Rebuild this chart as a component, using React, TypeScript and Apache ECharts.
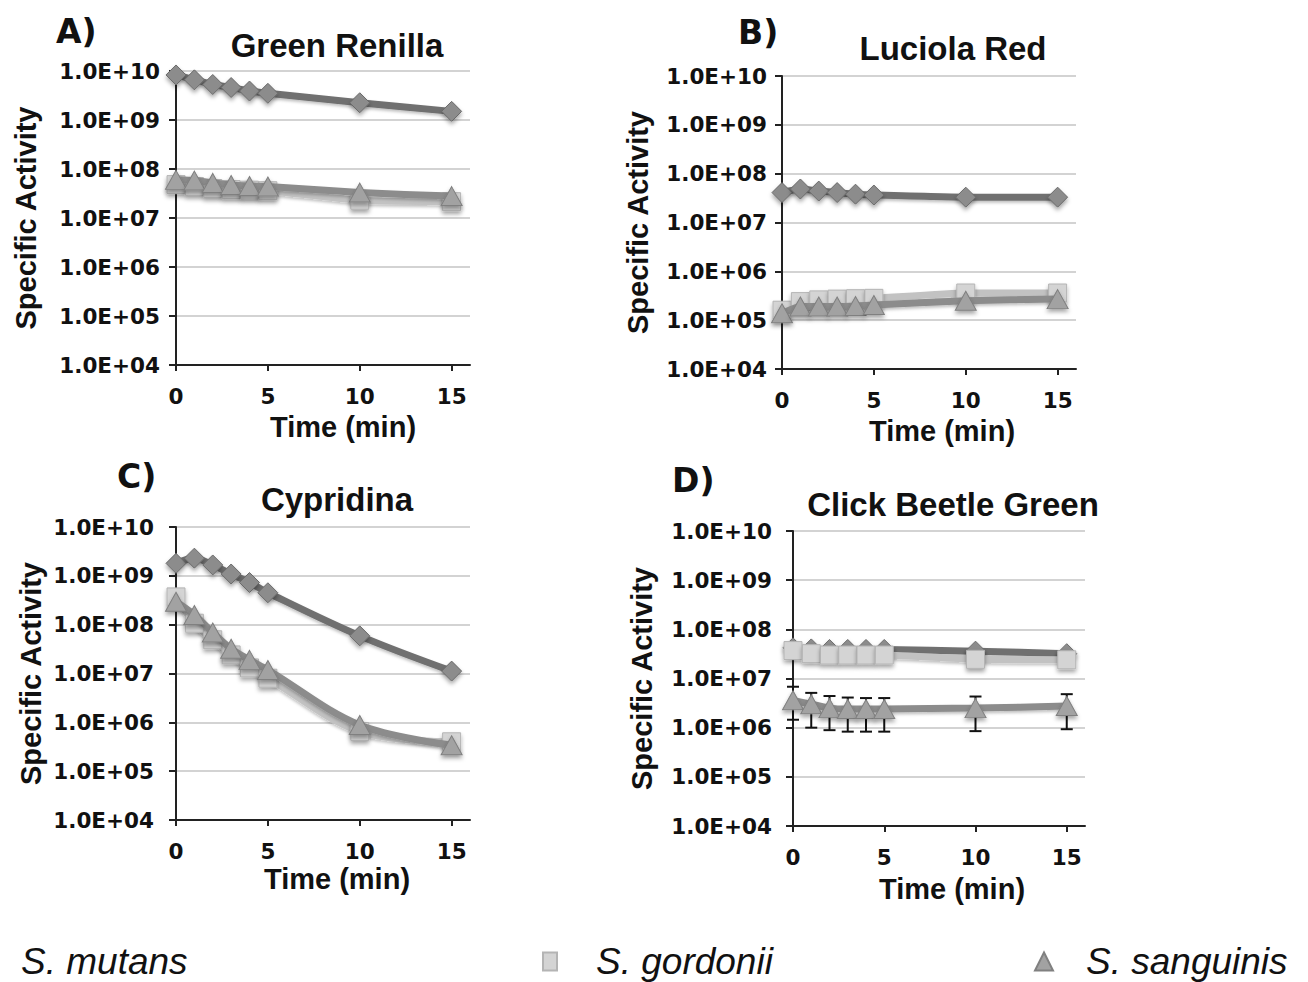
import React, { useEffect, useRef } from "react";
import * as echarts from "echarts";

// ---------- data ----------
const times = [0, 1, 2, 3, 4, 5, 10, 15];
const xTickLabels = [0, 5, 10, 15];
const seriesNames = ["S. mutans", "S. gordonii", "S. sanguinis"];
const panelLetters = ["A)", "B)", "C)", "D)"];
const panelTitles = ["Green Renilla", "Luciola Red", "Cypridina", "Click Beetle Green"];

const renillaMutans = [8.3e9, 6.6e9, 5.3e9, 4.6e9, 3.9e9, 3.5e9, 2.25e9, 1.5e9];
const renillaGordonii = [4.8e7, 4.4e7, 4.0e7, 3.8e7, 3.7e7, 3.6e7, 2.3e7, 2.15e7];
const renillaSanguinis = [6.0e7, 5.8e7, 5.2e7, 4.7e7, 4.5e7, 4.4e7, 3.3e7, 2.8e7];

const luciolaMutans = [4.1e7, 4.85e7, 4.4e7, 4.1e7, 3.8e7, 3.65e7, 3.3e7, 3.3e7];
const luciolaGordonii = [1.6e5, 2.4e5, 2.6e5, 2.7e5, 2.75e5, 2.8e5, 3.6e5, 3.6e5];
const luciolaSanguinis = [1.38e5, 1.9e5, 1.9e5, 1.9e5, 1.95e5, 2.05e5, 2.5e5, 2.7e5];

const cypridinaMutans = [1.8e9, 2.3e9, 1.67e9, 1.09e9, 7.3e8, 4.5e8, 5.9e7, 1.12e7];
const cypridinaGordonii = [3.7e8, 1.07e8, 4.9e7, 2.4e7, 1.3e7, 8.0e6, 6.5e5, 4.0e5];
const cypridinaSanguinis = [2.95e8, 1.58e8, 6.9e7, 3.2e7, 1.9e7, 1.18e7, 8.8e5, 3.4e5];

const beetleMutans = [4.2e7, 4.0e7, 3.9e7, 3.9e7, 3.9e7, 3.9e7, 3.6e7, 3.2e7];
const beetleGordonii = [3.7e7, 3.2e7, 3.0e7, 3.0e7, 3.0e7, 3.0e7, 2.45e7, 2.4e7];
const beetleSanguinis = [3.6e6, 3.0e6, 2.5e6, 2.4e6, 2.4e6, 2.4e6, 2.5e6, 2.75e6];
const beetleSanguinisHigh = [6.8e6, 5.1e6, 4.4e6, 4.1e6, 4.0e6, 4.0e6, 4.3e6, 4.8e6];
const beetleSanguinisLow = [1.45e6, 1.0e6, 8.9e5, 8.3e5, 8.3e5, 8.3e5, 8.5e5, 9.3e5];

const panelData = [
  [renillaMutans, renillaGordonii, renillaSanguinis],
  [luciolaMutans, luciolaGordonii, luciolaSanguinis],
  [cypridinaMutans, cypridinaGordonii, cypridinaSanguinis],
  [beetleMutans, beetleGordonii, beetleSanguinis],
];

// ---------- layout ----------
const grids = [
  { left: 176, top: 71, width: 294, height: 294 },
  { left: 782, top: 76, width: 294, height: 293 },
  { left: 176, top: 527, width: 294, height: 293 },
  { left: 793, top: 531, width: 292, height: 295 },
];
const yLabelMargin = [16, 15, 22, 21];
const yNameGap = [136, 130, 131, 137];
const xNameShift = [20, 13, 14, 13];
const xNameGap = [47, 47, 44, 48];
const letterPos = [[56, 31], [738, 32], [117, 476], [672, 480]];
const titlePos = [[337, 45], [953, 48], [337, 499], [953, 504]];

const styles = [
  { line: "#707070", fill: "#8c8c8c", border: "#6a6a6a", symbol: "diamond", size: [20, 20] },
  { line: "#c2c2c2", fill: "#d4d4d4", border: "#b4b4b4", symbol: "rect", size: [18, 18] },
  { line: "#8c8c8c", fill: "#a2a2a2", border: "#808080", symbol: "triangle", size: [21, 19] },
];

const tickFont = { fontFamily: "DejaVu Sans", fontWeight: "bold" as const, fontSize: 21.5, color: "#111" };
const nameFont = { fontFamily: "Liberation Sans", fontWeight: "bold" as const, fontSize: 29, color: "#111" };

export default function App() {
  const ref = useRef<HTMLDivElement>(null);

  useEffect(() => {
    document.body.style.margin = "0";
    if (!ref.current) return;
    const chart = echarts.init(ref.current, null, { renderer: "svg" });

    const xAxes = grids.map((_, i) => ({
      type: "value",
      gridIndex: i,
      min: 0,
      max: 16,
      interval: 5,
      name: "Time (min)",
      nameLocation: "middle",
      nameGap: xNameGap[i],
      nameTextStyle: { ...nameFont, padding: [0, 0, 0, xNameShift[i] * 2] },
      axisLine: { show: true, onZero: false, lineStyle: { color: "#222", width: 2 } },
      axisTick: { show: true, length: 6, customValues: xTickLabels, lineStyle: { color: "#222", width: 2 } },
      axisLabel: { ...tickFont, margin: 20, customValues: xTickLabels },
      splitLine: { show: false },
    }));

    const yAxes = grids.map((_, i) => ({
      type: "log",
      gridIndex: i,
      logBase: 10,
      min: 1e4,
      max: 1e10,
      splitNumber: 6,
      name: "Specific Activity",
      nameLocation: "middle",
      nameGap: yNameGap[i],
      nameTextStyle: nameFont,
      axisLine: { show: true, lineStyle: { color: "#222", width: 2 } },
      axisTick: { show: true, length: 7, lineStyle: { color: "#222", width: 2 } },
      axisLabel: {
        ...tickFont,
        margin: yLabelMargin[i],
        formatter: (v: number) => {
          const e = Math.round(Math.log10(v));
          return "1.0E+" + (e < 10 ? "0" + e : String(e));
        },
      },
      splitLine: { show: true, lineStyle: { color: "#c4c4c4", width: 1.5 } },
      minorSplitLine: { show: false },
    }));

    const series: any[] = [];
    // error bars (panel D, S. sanguinis)
    series.push({
      type: "custom",
      name: "error",
      xAxisIndex: 3,
      yAxisIndex: 3,
      z: 1,
      silent: true,
      encode: { x: 0, y: [1, 2] },
      data: times.map((t, i) => [t, beetleSanguinisHigh[i], beetleSanguinisLow[i]]),
      renderItem: (params: any, api: any) => {
        const x = api.value(0);
        const top = api.coord([x, api.value(1)]);
        const bot = api.coord([x, api.value(2)]);
        const w = 6;
        const st = { stroke: "#111", lineWidth: 2 };
        return {
          type: "group",
          children: [
            { type: "line", shape: { x1: top[0], y1: top[1], x2: bot[0], y2: bot[1] }, style: st },
            { type: "line", shape: { x1: top[0] - w, y1: top[1], x2: top[0] + w, y2: top[1] }, style: st },
            { type: "line", shape: { x1: bot[0] - w, y1: bot[1], x2: bot[0] + w, y2: bot[1] }, style: st },
          ],
        };
      },
    });

    panelData.forEach((group, p) => {
      group.forEach((vals, s) => {
        const st = styles[s];
        series.push({
          type: "line",
          name: seriesNames[s],
          xAxisIndex: p,
          yAxisIndex: p,
          z: 2 + s,
          smooth: p === 2 ? 0.35 : 0.15,
          data: times.map((t, i) => [t, vals[i]]),
          symbol: st.symbol,
          symbolSize: st.size,
          showSymbol: true,
          lineStyle: {
            color: st.line,
            width: 7,
            shadowColor: "rgba(0,0,0,0.25)",
            shadowBlur: 3,
            shadowOffsetY: 2,
          },
          itemStyle: {
            color: st.fill,
            borderColor: st.border,
            borderWidth: 1,
            shadowColor: "rgba(0,0,0,0.35)",
            shadowBlur: 4,
            shadowOffsetY: 3,
          },
          emphasis: { disabled: true },
        });
      });
    });

    const graphics: any[] = [];
    panelLetters.forEach((l, i) => {
      graphics.push({
        type: "text",
        x: letterPos[i][0],
        y: letterPos[i][1],
        style: {
          text: l,
          fontFamily: "DejaVu Sans",
          fontWeight: "bold",
          fontSize: 33,
          fill: "#111",
          align: "left",
          verticalAlign: "middle",
        },
      });
    });
    panelTitles.forEach((t, i) => {
      graphics.push({
        type: "text",
        x: titlePos[i][0],
        y: titlePos[i][1],
        style: {
          text: t,
          fontFamily: "Liberation Sans",
          fontWeight: "bold",
          fontSize: 33,
          fill: "#111",
          align: "center",
          verticalAlign: "middle",
        },
      });
    });

    const legendText = {
      fontFamily: "Liberation Sans",
      fontStyle: "italic" as const,
      fontSize: 37,
      color: "#111",
    };

    chart.setOption({
      animation: false,
      backgroundColor: "#ffffff",
      grid: grids.map((g) => ({ ...g, containLabel: false })),
      xAxis: xAxes,
      yAxis: yAxes,
      series,
      graphic: graphics,
      legend: [
        {
          left: 1,
          top: 938,
          itemWidth: 10,
          itemHeight: 18,
          selectedMode: false,
          data: [{ name: seriesNames[0], icon: "none" }],
          textStyle: { ...legendText },
        },
        {
          left: 537,
          top: 938,
          itemWidth: 14,
          itemHeight: 18,
          selectedMode: false,
          data: [{ name: seriesNames[1], icon: "rect" }],
          textStyle: { ...legendText, padding: [0, 0, 0, 34] },
        },
        {
          left: 1029,
          top: 938,
          itemWidth: 18,
          itemHeight: 18,
          selectedMode: false,
          data: [{ name: seriesNames[2], icon: "triangle" }],
          textStyle: { ...legendText, padding: [0, 0, 0, 28] },
        },
      ],
    });

    return () => chart.dispose();
  }, []);

  return <div ref={ref} style={{ width: 1308, height: 982 }} />;
}
